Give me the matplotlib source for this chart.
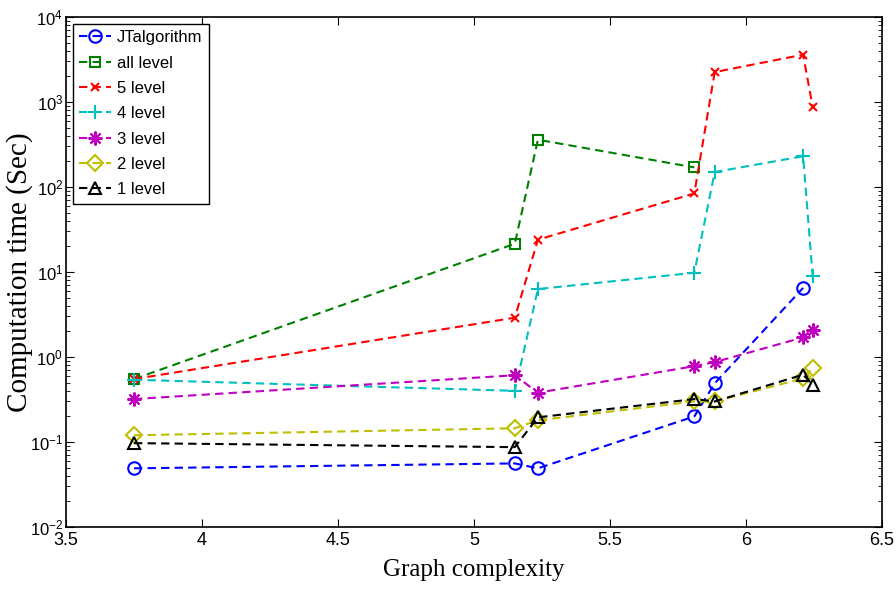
import matplotlib
matplotlib.use("Agg")
import matplotlib.pyplot as plt
import numpy as np

# data
x_all = [3.75, 5.15, 5.235, 5.81, 5.885, 6.21, 6.245]

jt = [0.049, 0.056, 0.049, 0.20, 0.49, 6.5]
all_level = [0.55, 21.5, 360, 170]
lvl5 = [0.55, 2.9, 24, 84, 2250, 3600, 880]
lvl4 = [0.54, 0.40, 6.3, 9.8, 150, 230, 9.0]
lvl3 = [0.32, 0.61, 0.38, 0.78, 0.87, 1.7, 2.1]
lvl2 = [0.12, 0.145, 0.18, 0.30, 0.30, 0.56, 0.74]
lvl1 = [0.097, 0.087, 0.195, 0.32, 0.30, 0.62, 0.47]

# nome, valores, cor, marcador, tamanho
series = [
    ("JTalgorithm", jt, "#0000ff", "o", 9),
    ("all level", all_level, "#008000", "s", 7),
    ("5 level", lvl5, "#ff0000", "x", 6),
    ("4 level", lvl4, "#00bfbf", "+", 10),
    ("3 level", lvl3, "#bf00bf", (8, 2, 0), 10),
    ("2 level", lvl2, "#bfbf00", "D", 8),
    ("1 level", lvl1, "#000000", "^", 9),
]

plt.rcParams["font.family"] = "Liberation Sans"
plt.rcParams["mathtext.fontset"] = "custom"
plt.rcParams["mathtext.rm"] = "Liberation Sans"
plt.rcParams["mathtext.it"] = "Liberation Sans"

fig = plt.figure(figsize=(8.96, 5.92), dpi=100)
ax = fig.add_axes([66 / 896, 1 - 527 / 592, 816 / 896, 510 / 592])

for nome, vals, c, m, tam in series:
    xs = x_all[:len(vals)]
    ax.plot(xs, vals, color=c, linestyle=(0, (4, 2.5)), marker=m,
            markersize=tam, markerfacecolor="none", markeredgewidth=1.5,
            linewidth=1.5, label=nome)

ax.set_yscale("log")
ax.set_xlim(3.5, 6.5)
ax.set_ylim(1e-2, 1e4)
ax.set_xticks([3.5, 4, 4.5, 5, 5.5, 6, 6.5])
ax.set_xticklabels(["3.5", "4", "4.5", "5", "5.5", "6", "6.5"])
ax.tick_params(which="both", direction="in", top=True, right=True,
               labelsize=13)
ax.tick_params(axis="y", labelsize=12, pad=2)
ax.tick_params(which="major", length=6)
ax.tick_params(which="minor", length=3)
for s in ax.spines.values():
    s.set_linewidth(1.2)

ax.set_xlabel("Graph complexity", family="Liberation Serif", fontsize=18)
ax.xaxis.set_label_coords(0.5, -0.062)
ax.set_ylabel("Computation time (Sec)", family="Liberation Serif",
              fontsize=21)
ax.yaxis.set_label_coords(-0.04, 0.5)

leg = ax.legend(loc="upper left", fontsize=12, fancybox=False,
                edgecolor="black", framealpha=1, handlelength=1.9,
                borderaxespad=0.4, labelspacing=0.62, handletextpad=0.35,
                borderpad=0.4)
leg.get_frame().set_linewidth(1.0)

fig.savefig("out.png", dpi=100)
